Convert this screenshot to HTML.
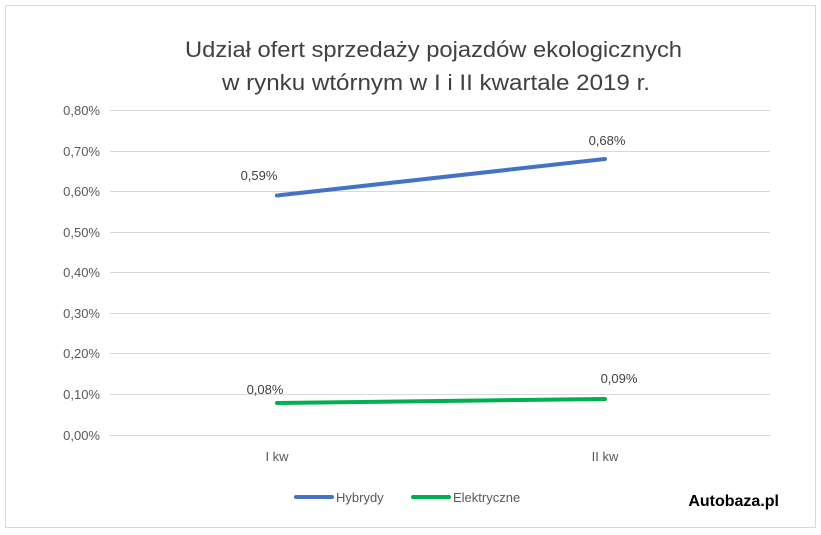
<!DOCTYPE html>
<html><head><meta charset="utf-8"><style>
body{margin:0;background:#fff;}
svg{display:block;font-family:"Liberation Sans",sans-serif;}
</style></head><body>
<svg width="821" height="535" viewBox="0 0 821 535">
<rect x="0" y="0" width="821" height="535" fill="#fff"/>
<rect x="5.5" y="5.5" width="810" height="522" fill="#fff" stroke="#d9d9d9"/>
<text x="185" y="57" textLength="497" lengthAdjust="spacingAndGlyphs" font-size="22" fill="#404040">Udział ofert sprzedaży pojazdów ekologicznych</text>
<text x="222" y="90" textLength="428" lengthAdjust="spacingAndGlyphs" font-size="22" fill="#404040">w rynku wtórnym w I i II kwartale 2019 r.</text>
<g stroke="#d9d9d9" stroke-width="1">
<line x1="110" x2="770" y1="110.5" y2="110.5"/>
<line x1="110" x2="770" y1="151.5" y2="151.5"/>
<line x1="110" x2="770" y1="191.5" y2="191.5"/>
<line x1="110" x2="770" y1="232.5" y2="232.5"/>
<line x1="110" x2="770" y1="272.5" y2="272.5"/>
<line x1="110" x2="770" y1="313.5" y2="313.5"/>
<line x1="110" x2="770" y1="353.5" y2="353.5"/>
<line x1="110" x2="770" y1="394.5" y2="394.5"/>
<line x1="110" x2="770" y1="435.5" y2="435.5"/>
</g>
<g font-size="13" fill="#595959" text-anchor="end">
<text x="100" y="115">0,80%</text>
<text x="100" y="156">0,70%</text>
<text x="100" y="196">0,60%</text>
<text x="100" y="237">0,50%</text>
<text x="100" y="277">0,40%</text>
<text x="100" y="318">0,30%</text>
<text x="100" y="358">0,20%</text>
<text x="100" y="399">0,10%</text>
<text x="100" y="440">0,00%</text>
</g>
<g font-size="13" fill="#595959" text-anchor="middle">
<text x="277" y="461">I kw</text>
<text x="605" y="461">II kw</text>
</g>
<polyline points="277,195.5 605,159" fill="none" stroke="#4472c4" stroke-width="4" stroke-linecap="round"/>
<polyline points="277,403 605,399" fill="none" stroke="#00b050" stroke-width="4" stroke-linecap="round"/>
<g font-size="13" fill="#404040" text-anchor="middle">
<text x="259" y="180">0,59%</text>
<text x="607" y="145">0,68%</text>
<text x="265" y="394">0,08%</text>
<text x="619" y="383">0,09%</text>
</g>
<line x1="296" x2="332" y1="497" y2="497" stroke="#4472c4" stroke-width="4" stroke-linecap="round"/>
<text x="336" y="502" font-size="13" fill="#595959">Hybrydy</text>
<line x1="413" x2="449" y1="497" y2="497" stroke="#00b050" stroke-width="4" stroke-linecap="round"/>
<text x="453" y="502" font-size="13" fill="#595959">Elektryczne</text>
<text x="779" y="506" text-anchor="end" font-size="16" font-weight="bold" fill="#000">Autobaza.pl</text>
</svg>
</body></html>
